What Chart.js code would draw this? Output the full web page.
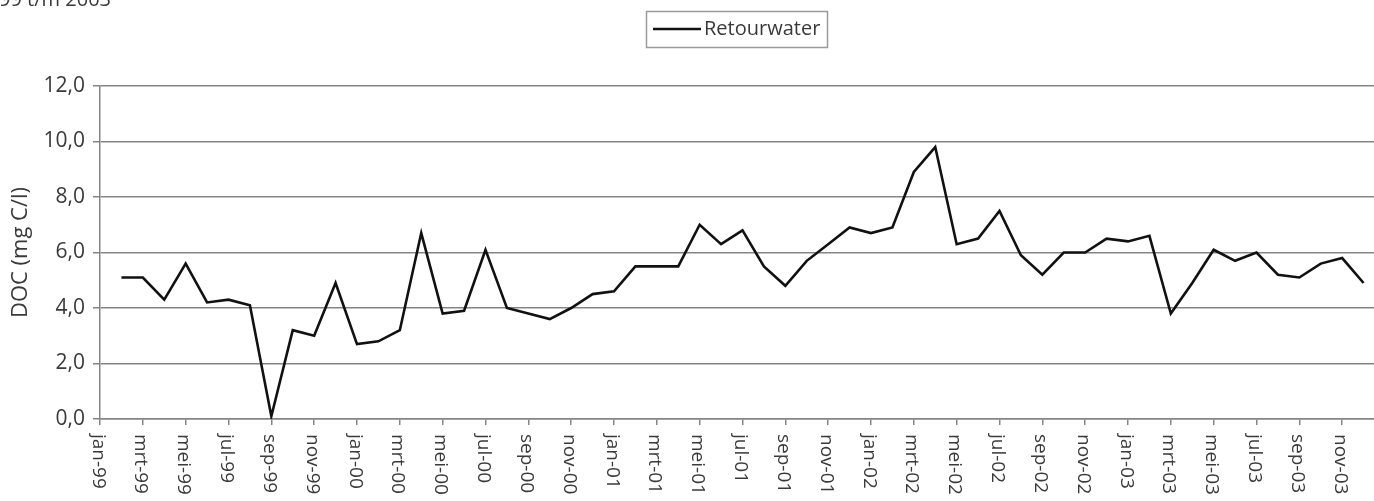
<!DOCTYPE html>
<html>
<head>
<meta charset="utf-8">
<script src="https://cdn.jsdelivr.net/npm/chart.js@4/dist/chart.umd.min.js"></script>
<style>
  html, body { margin: 0; padding: 0; background: #fff; overflow: hidden; }
  #wrap { width: 1400px; height: 501px; }
</style>
</head>
<body>
<div id="wrap"><canvas id="doc" width="1400" height="501"></canvas></div>
<script>
// months on the x axis (jan-99 .. jan-04), one per month
const months = [
  "jan-99", "feb-99", "mrt-99", "apr-99", "mei-99", "jun-99", "jul-99", "aug-99", "sep-99", "okt-99", "nov-99", "dec-99",
  "jan-00", "feb-00", "mrt-00", "apr-00", "mei-00", "jun-00", "jul-00", "aug-00", "sep-00", "okt-00", "nov-00", "dec-00",
  "jan-01", "feb-01", "mrt-01", "apr-01", "mei-01", "jun-01", "jul-01", "aug-01", "sep-01", "okt-01", "nov-01", "dec-01",
  "jan-02", "feb-02", "mrt-02", "apr-02", "mei-02", "jun-02", "jul-02", "aug-02", "sep-02", "okt-02", "nov-02", "dec-02",
  "jan-03", "feb-03", "mrt-03", "apr-03", "mei-03", "jun-03", "jul-03", "aug-03", "sep-03", "okt-03", "nov-03", "dec-03",
  "jan-04"
];

// DOC in retourwater (mg C/l); no sample in jan-99
const retourwater = [
  null, 5.1, 5.1, 4.3, 5.6, 4.2, 4.3, 4.1, 0.1, 3.2, 3.0, 4.9,
  2.7, 2.8, 3.2, 6.7, 3.8, 3.9, 6.1, 4.0, 3.8, 3.6, 4.0, 4.5,
  4.6, 5.5, 5.5, 5.5, 7.0, 6.3, 6.8, 5.5, 4.8, 5.7, 6.3, 6.9,
  6.7, 6.9, 8.9, 9.8, 6.3, 6.5, 7.5, 5.9, 5.2, 6.0, 6.0, 6.5,
  6.4, 6.6, 3.8, 4.9, 6.1, 5.7, 6.0, 5.2, 5.1, 5.6, 5.8, 4.9
];

const yTicks = [0, 2, 4, 6, 8, 10, 12];

const textColor = "#3a3a3a";
const gridColor = "#858585";
const fontFamily = "'Open Sans', 'Noto Sans', sans-serif";

// top-down month labels, a framed legend and the cut-off caption
const extras = {
  id: "extras",
  afterDraw(chart) {
    const ctx = chart.ctx;
    const xs = chart.scales.x;
    const bottom = chart.chartArea.bottom;

    ctx.save();
    ctx.fillStyle = textColor;
    ctx.font = "19px " + fontFamily;
    ctx.textAlign = "left";
    ctx.textBaseline = "middle";
    xs.ticks.forEach((t, i) => {
      if (t.label === null || t.label === undefined) return;
      const x = xs.getPixelForTick(i);
      ctx.save();
      ctx.translate(x - 2, bottom + 15);
      ctx.rotate(Math.PI / 2);
      ctx.fillText(t.label, 0, 0);
      ctx.restore();
    });
    ctx.restore();

    // legend
    const ds = chart.data.datasets[0];
    ctx.save();
    ctx.strokeStyle = "#9a9a9a";
    ctx.lineWidth = 1.5;
    ctx.strokeRect(646.5, 11.5, 181, 36);
    ctx.strokeStyle = ds.borderColor;
    ctx.lineWidth = 2.5;
    ctx.beginPath();
    ctx.moveTo(653, 29);
    ctx.lineTo(701, 29);
    ctx.stroke();
    ctx.fillStyle = textColor;
    ctx.font = "20px " + fontFamily;
    ctx.textAlign = "left";
    ctx.textBaseline = "middle";
    ctx.fillText(ds.label, 704, 29);
    ctx.restore();

    // caption at the top, mostly outside the picture
    ctx.save();
    ctx.fillStyle = textColor;
    ctx.font = "20px " + fontFamily;
    ctx.textAlign = "right";
    ctx.textBaseline = "alphabetic";
    ctx.fillText("1999 t/m 2003", 111, 6);
    ctx.restore();
  }
};

new Chart("doc", {
  type: "line",
  data: {
    labels: months,
    datasets: [
      {
        label: "Retourwater",
        data: retourwater,
        borderColor: "#111111",
        borderWidth: 2.6,
        pointRadius: 0,
        tension: 0,
        fill: false,
        spanGaps: false,
      },
    ],
  },
  options: {
    responsive: false,
    animation: false,
    devicePixelRatio: 1,
    layout: { padding: { top: 86, right: 15, left: 0, bottom: 0 } },
    plugins: {
      legend: { display: false },
      tooltip: { enabled: false },
    },
    scales: {
      x: {
        type: "category",
        offset: false,
        grid: { drawOnChartArea: false, drawTicks: true, tickLength: 6, color: gridColor, lineWidth: 1.5 },
        border: { color: gridColor, width: 1.5 },
        ticks: {
          autoSkip: false,
          maxRotation: 0,
          color: "rgba(0,0,0,0)",
          callback: (v, i) => (i % 2 === 0 && i < 60 ? months[i] : null),
        },
        afterFit: (s) => { s.height = 82; },
      },
      y: {
        min: 0,
        max: 12,
        afterBuildTicks: (s) => { s.ticks = yTicks.map((v) => ({ value: v })); },
        grid: { color: gridColor, lineWidth: 1.5, tickLength: 7 },
        border: { color: gridColor, width: 1.5 },
        ticks: {
          color: textColor,
          font: { size: 21, family: fontFamily },
          padding: 8,
          callback: (v) => v.toFixed(1).replace(".", ","),
        },
        title: {
          display: true,
          text: "DOC (mg C/l)",
          color: textColor,
          font: { size: 22, family: fontFamily },
          padding: { top: 8, bottom: 0 },
        },
        afterFit: (s) => { s.width = 100; },
      },
    },
  },
  plugins: [extras],
});
</script>
</body>
</html>
